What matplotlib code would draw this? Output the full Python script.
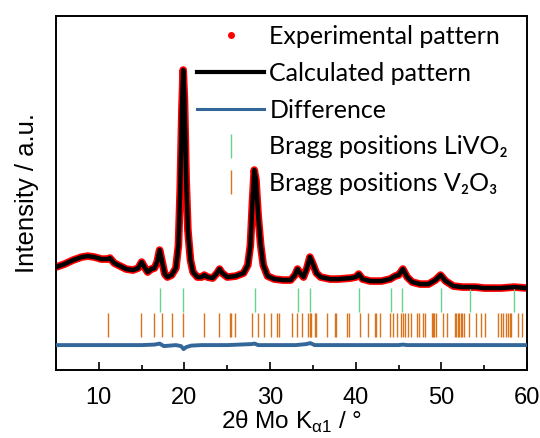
import matplotlib
matplotlib.use('Agg')
import matplotlib.pyplot as plt
from matplotlib.lines import Line2D
from matplotlib.ticker import MultipleLocator

# Perfil medido/calculado (2theta, intensidade em u.a.)
dois_theta = [5.0, 6.0, 7.0, 8.0, 8.7, 9.5, 10.3, 11.0, 11.3, 11.8, 12.5, 13.2, 14.0, 14.6,
              15.0, 15.4, 15.7, 16.1, 16.5, 16.8, 17.1, 17.4, 17.7, 18.0, 18.5, 19.0, 19.3,
              19.5, 19.7, 19.85, 20.0, 20.2, 20.4, 20.7, 21.0, 21.5, 22.0, 22.3, 22.7, 23.3,
              23.8, 24.1, 24.4, 25.0, 26.0, 26.9, 27.4, 27.7, 27.95, 28.15, 28.35, 28.6, 28.9,
              29.2, 29.7, 30.5, 31.5, 32.4, 32.9, 33.2, 33.5, 33.9, 34.3, 34.65, 35.0, 35.4,
              35.9, 37.0, 38.0, 39.4, 40.0, 40.35, 40.8, 41.7, 43.0, 44.0, 44.6, 45.0, 45.5,
              46.0, 46.6, 47.5, 48.5, 49.3, 49.9, 50.5, 51.4, 52.5, 54.0, 55.0, 57.0, 58.5, 60.0]
intensidade = [103, 106, 110, 113, 114, 113, 111, 111, 112, 107, 104, 101, 100, 102,
               108, 102, 98, 101, 102, 108, 120, 108, 96, 93, 95, 102, 125,
               180, 260, 300, 270, 190, 140, 110, 98, 93, 93, 95, 93, 92,
               97, 101, 97, 93, 94, 97, 105, 125, 170, 200, 190, 155, 125,
               105, 94, 91, 90, 90, 95, 101, 97, 93, 102, 113, 106, 97,
               93, 91, 91, 92, 93, 96, 91, 89, 89, 91, 94, 95, 101,
               93, 88, 86, 86, 90, 95, 89, 84, 83, 83, 82, 82, 83, 82]

# Diferenca (calc - exp)
diff_x = [5, 10, 15, 16.5, 17.1, 17.6, 19.0, 19.6, 19.9, 20.2, 20.8, 22, 25, 27.8, 28.2,
          28.6, 30, 33, 34.2, 34.7, 35.2, 40, 45, 45.5, 46, 50, 55, 60]
diff_y = [0, 0, 0, 0.5, 1.5, -1, 0, -1, -4, -2, -0.5, 0, 0, 1, 1.5,
          0, 0, 0, 1, 2, 0, 0, 0, 0.5, 0, 0, 0, 0]
offset_diff = 25

# Posicoes de Bragg
bragg_livo2 = [17.09, 19.79, 28.21, 33.24, 34.69, 40.41, 44.08, 45.37, 49.95, 53.30, 58.45]
bragg_v2o3 = [11.05, 14.91, 16.46, 17.40, 18.57, 19.82, 22.27, 23.98, 25.27, 25.39, 25.90,
              27.84, 28.63, 29.30, 30.15, 30.82, 31.05, 32.60, 33.15, 33.74, 34.47, 34.63,
              34.79, 35.21, 35.37, 36.66, 37.63, 37.75, 39.0, 39.19, 40.44, 41.46, 42.19,
              42.39, 42.81, 44.03, 44.33, 44.77, 45.32, 45.50, 45.74, 46.05, 46.49, 47.19,
              47.37, 47.84, 48.04, 48.86, 49.01, 49.18, 49.33, 50.18, 50.70, 51.58, 51.75,
              51.90, 52.05, 52.25, 52.45, 52.64, 53.22, 54.09, 54.59, 55.06, 56.66, 56.93,
              57.25, 57.60, 57.78, 58.02, 58.18, 58.95, 59.42]

plt.rcParams['mathtext.fontset'] = 'custom'
plt.rcParams['mathtext.rm'] = 'Liberation Sans'

fig = plt.figure(figsize=(5.4, 4.38), dpi=100)
ax = fig.add_axes([0.1037, 0.155, 0.8723, 0.8096])

ax.plot(dois_theta, intensidade, color='red', lw=5.5, solid_capstyle='round', zorder=2)
ax.plot(dois_theta, intensidade, color='black', lw=3.2, zorder=3)
ax.plot(diff_x, [d + offset_diff for d in diff_y], color='#336699', lw=2.8, zorder=3)
ax.vlines(bragg_livo2, 58, 82, color='#66d28c', lw=1)
ax.vlines(bragg_v2o3, 33, 57, color='#d9731c', lw=1)

ax.set_xlim(5, 60)
ax.set_ylim(0, 354.5)
ax.xaxis.set_major_locator(MultipleLocator(10))
ax.xaxis.set_minor_locator(MultipleLocator(5))
ax.tick_params(axis='x', which='major', direction='in', length=6, width=1.2, labelsize=17, pad=12)
ax.tick_params(axis='x', which='minor', direction='in', length=3.5, width=1.2)
ax.set_yticks([])
for sp in ax.spines.values():
    sp.set_linewidth(1.4)
for lab in ax.get_xticklabels():
    lab.set_fontfamily('Liberation Sans')

ax.set_xlabel(r'2θ Mo K$_{\mathregular{α1}}$ / °', fontsize=17.5, family='Liberation Sans', labelpad=0)
ax.set_ylabel('Intensity / a.u.', fontsize=18.5, family='Liberation Sans', labelpad=12)

handles = [
    Line2D([], [], ls='', marker='o', color='red', markersize=4),
    Line2D([], [], color='black', lw=3),
    Line2D([], [], color='#336699', lw=2.2),
    Line2D([], [], ls='', marker='|', color='#66d28c', markersize=17, markeredgewidth=1),
    Line2D([], [], ls='', marker='|', color='#d9731c', markersize=17, markeredgewidth=1),
]
labels = ['Experimental pattern', 'Calculated pattern', 'Difference',
          'Bragg positions LiVO₂', 'Bragg positions V₂O₃']
ax.legend(handles, labels, loc='upper left', bbox_to_anchor=(0.299, 0.973), frameon=False,
          prop={'family': ['Lato', 'DejaVu Sans'], 'size': 18}, handlelength=2.7,
          handletextpad=0.2, labelspacing=0.55, borderpad=0, borderaxespad=0)

fig.savefig('out.png', dpi=100)
